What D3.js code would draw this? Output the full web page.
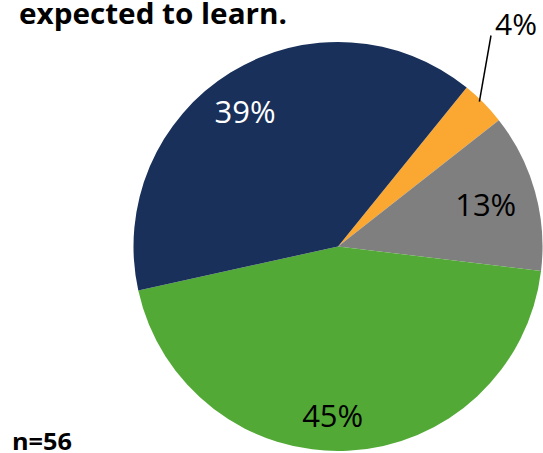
<!DOCTYPE html>
<html>
<head>
<meta charset="utf-8">
<script src="https://cdn.jsdelivr.net/npm/d3@7"></script>
<style>
  body { margin: 0; background: #fff; }
  svg text { font-family: "Open Sans", "Liberation Sans", sans-serif; }
</style>
</head>
<body>
<div id="chart"></div>
<script>
var svgWidth = 543;
var svgHeight = 453;

// data: responses out of n=56, clockwise from the small orange slice
var categories = ["orange", "gray", "green", "navy"];
var counts = [2, 7, 25, 22];
var labels = ["4%", "13%", "45%", "39%"];
var colors = ["#fba832", "#7f7f7f", "#52a936", "#19305a"];
var labelColors = ["#000", "#000", "#000", "#fff"];

var svg = d3.select("#chart")
  .append("svg")
  .attr("width", svgWidth)
  .attr("height", svgHeight);

// title (only the last line fits in the crop)
svg.append("text")
  .attr("x", 19)
  .attr("y", 24)
  .attr("font-size", 28)
  .attr("font-weight", "bold")
  .attr("textLength", 268)
  .attr("lengthAdjust", "spacingAndGlyphs")
  .text("expected to learn.");

svg.append("text")
  .attr("x", 12)
  .attr("y", 450)
  .attr("font-size", 24)
  .attr("font-weight", "bold")
  .attr("textLength", 60)
  .attr("lengthAdjust", "spacingAndGlyphs")
  .text("n=56");

var cx = 338, cy = 246.5, radius = 204.5;

var pieGroup = svg.append("g")
  .attr("transform", `translate(${cx}, ${cy})`);

var startDeg = 39;
var pie = d3.pie()
  .sort(null)
  .value(d => d)
  .startAngle(startDeg * Math.PI / 180)
  .endAngle((startDeg + 360) * Math.PI / 180);

var arcs = pie(counts);

var arc = d3.arc()
  .innerRadius(0)
  .outerRadius(radius);

pieGroup.selectAll("path")
  .data(arcs)
  .enter()
  .append("path")
  .attr("d", arc)
  .attr("fill", (d, i) => colors[i]);

// inside labels at a fraction of the radius, outside label for the small slice
var labelRadius = [1.0, 0.75, 0.83, 0.80];
var labelShift = [0, 0, 0.08, -0.05];
var labelPos = (d, i) => {
  var r = radius * labelRadius[i];
  var a = (d.startAngle + d.endAngle) / 2 + labelShift[i];
  return [Math.sin(a) * r, -Math.cos(a) * r];
};

// leader line for the 4% slice
var small = arcs[0];
var midA = (small.startAngle + small.endAngle) / 2 - 0.02;
var p1 = [Math.sin(midA) * (radius - 2), -Math.cos(midA) * (radius - 2)];
var p2 = [153, -211];
pieGroup.append("line")
  .attr("x1", p1[0])
  .attr("y1", p1[1])
  .attr("x2", p2[0])
  .attr("y2", p2[1])
  .attr("stroke", "#000")
  .attr("stroke-width", 1.5);

pieGroup.append("text")
  .attr("x", p2[0] + 25)
  .attr("y", p2[1] - 0.5)
  .attr("text-anchor", "middle")
  .attr("font-size", 30)
  .text(labels[0]);

pieGroup.selectAll("text.inside")
  .data(arcs.slice(1))
  .enter()
  .append("text")
  .attr("class", "inside")
  .attr("transform", (d, j) => {
    var c = labelPos(d, j + 1);
    return `translate(${c[0]}, ${c[1]})`;
  })
  .attr("dy", "0.35em")
  .attr("text-anchor", "middle")
  .attr("font-size", 31)
  .attr("fill", (d, j) => labelColors[j + 1])
  .text((d, j) => labels[j + 1]);
</script>
</body>
</html>
